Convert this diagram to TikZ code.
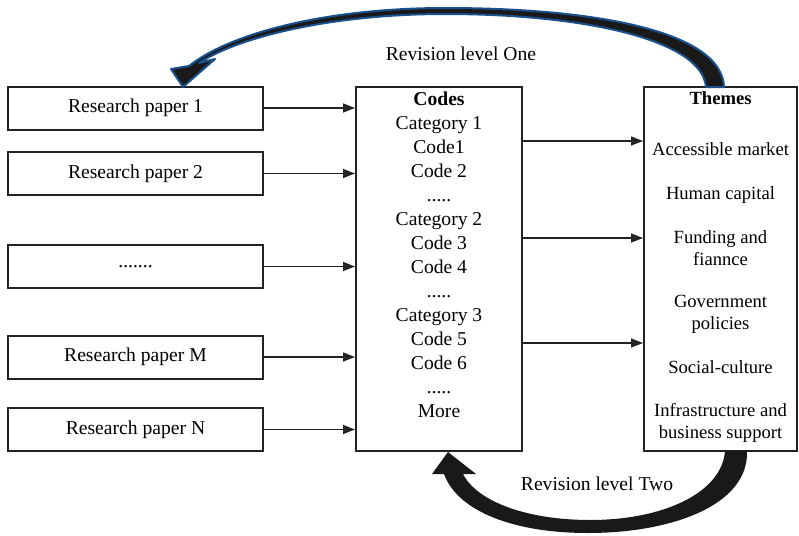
\documentclass[tikz,border=0pt]{standalone}
\usepackage{fontspec}
\setmainfont{Liberation Serif}
\usetikzlibrary{arrows.meta}
\definecolor{revblue}{RGB}{25,80,140}
\definecolor{boxline}{RGB}{35,35,35}
\begin{document}
\begin{tikzpicture}
  [x=0.5pt,y=-0.5pt,every node/.style={font=\fontsize{9.8}{12}\selectfont}]
  \tikzstyle{paper} = [draw=boxline,line width=1pt,minimum width=127.5pt,minimum height=21.5pt,inner sep=0pt]
  \tikzstyle{bigbox} = [draw=boxline,line width=1pt,minimum height=182pt,inner sep=0pt]
  \tikzstyle{link} = [draw=boxline,line width=0.75pt,-{Triangle[length=6pt,width=4.5pt]}]
  \useasboundingbox (0,0) rectangle (799,536);

  \node[paper] (p1) at (135.5,108) {Research paper 1};
  \node[paper] (p2) at (135.5,173.5) {Research paper 2};
  \node[paper] (p3) at (135.5,266.5) {.......};
  \node[paper] (pm) at (135.5,357) {Research paper M};
  \node[paper] (pn) at (135.5,429.5) {Research paper N};

  \node[bigbox,minimum width=83pt] (codes) at (439,269) {};
  \node[anchor=north,align=center,inner sep=0pt] (codelist) at (439,91)
    {\textbf{Codes}\\Category 1\\Code1\\Code 2\\.....\\Category 2\\Code 3\\Code 4\\.....\\
     Category 3\\Code 5\\Code 6\\.....\\More};

  \node[bigbox,minimum width=76.5pt] (themes) at (720.5,269) {};
  \node[anchor=north,align=center,inner sep=0pt,font=\fontsize{9.3}{11}\selectfont] (themelist) at (720.5,91)
    {\textbf{Themes}\\[14.5pt]Accessible market\\[11pt]Human capital\\[11pt]Funding and\\fiannce\\[10pt]
     Government\\policies\\[11pt]Social-culture\\[10.5pt]Infrastructure and\\business support};

  \foreach \from in {p1,p2,p3,pm,pn}
    \draw[link] (\from.east) -- (\from.east -| codes.west);
  \foreach \y in {141,238,343}
    \draw[link] (codes.east |- 0,\y) -- (themes.west |- 0,\y);

  % revision level one
  \filldraw[draw=revblue,line width=1pt,fill=black!90,line join=round]
    (724,87) .. controls (722,30) and (590,8) .. (445,8)
    .. controls (330,8) and (232,32) .. (189,66)
    -- (171,69) -- (183,87) -- (215,59) -- (199,63)
    .. controls (240,36) and (335,14) .. (445,14)
    .. controls (585,14) and (702,40) .. (706,87) -- cycle;
  \node (revone) at (461,54) {Revision level One};

  % revision level two
  \fill[black!90]
    (747,451) .. controls (749,505) and (672,533) .. (588,533)
    .. controls (515,533) and (458,512) .. (444,474)
    -- (432,474) -- (448,452) -- (476,474) -- (463,474)
    .. controls (478,503) and (530,520) .. (590,520)
    .. controls (665,520) and (722,492) .. (725,451) -- cycle;
  \node (revtwo) at (597,484) {Revision level Two};

\end{tikzpicture}
\end{document}
